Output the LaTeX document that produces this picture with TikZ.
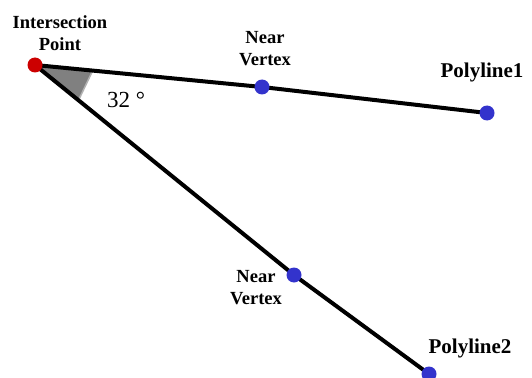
\documentclass[tikz,border=0pt]{standalone}
\usepackage{fontspec}
\setmainfont{Liberation Serif}
\usetikzlibrary{positioning,calc}
\definecolor{vblue}{RGB}{51,51,204}
\definecolor{ired}{RGB}{204,0,0}
\definecolor{wedge}{RGB}{128,128,128}

\begin{document}
\begin{tikzpicture}[x=1pt,y=-1pt,
  every node/.style={font=\fontsize{18.5}{22}\selectfont\bfseries},
  vtx/.style={circle,fill=vblue,inner sep=0pt,minimum size=15pt},
  lbl/.style={align=center,inner sep=0pt},
  polylbl/.style={lbl,font=\fontsize{21}{24}\selectfont\bfseries},
  polyline/.style={line width=4pt}]
\useasboundingbox (0,0) rectangle (532,377);
\coordinate (IP) at (35,65);
\coordinate (NV1) at (262,87);
\coordinate (E1) at (487,113);
\coordinate (NV2) at (294,275);
\coordinate (E2) at (429,374);
% angle wedge
\coordinate (w1) at ($(IP)!58pt!(NV1)$);
\coordinate (w2) at ($(IP)!56pt!(NV2)$);
\fill[wedge] (IP) -- (w1) -- (w2) -- cycle;
\draw[gray!60,line width=1.5pt] (w1) -- (w2);
% the two polylines
\draw[polyline] (IP) -- (NV1) -- (E1);
\draw[polyline] (IP) -- (NV2) -- (E2);
\node[vtx,fill=ired] (ip) at (IP) {};
\node[vtx] (nv1) at (NV1) {};
\node[vtx] (e1) at (E1) {};
\node[vtx] (nv2) at (NV2) {};
\node[vtx] (e2) at (E2) {};
% labels
\node[lbl] (iplbl) at (60,33) {Intersection\\Point};
\node[lbl] (nv1lbl) at (265,49) {Near\\Vertex};
\node[polylbl] (e1lbl) at (482,72) {Polyline1};
\node[lbl] (nv2lbl) at (256,288) {Near\\Vertex};
\node[polylbl] (e2lbl) at (470,348) {Polyline2};
\node[font=\fontsize{23}{26}\selectfont,anchor=base west,inner sep=0pt]
  (ang) at (107,108) {32 °};
\end{tikzpicture}
\end{document}
